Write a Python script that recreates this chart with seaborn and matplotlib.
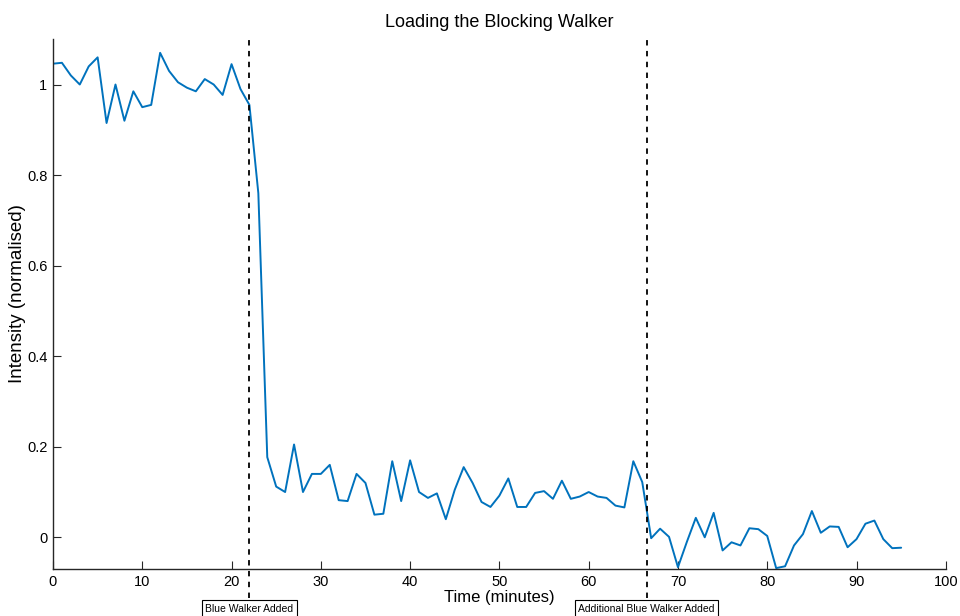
import numpy as np
import pandas as pd
import seaborn as sns
import matplotlib
matplotlib.use("Agg")
import matplotlib.pyplot as plt

# intensity readings, one per minute
minutes = list(range(96))
intensity = [
    1.046, 1.048, 1.020, 1.000, 1.040, 1.060, 0.915, 1.000, 0.920, 0.985,
    0.950, 0.955, 1.070, 1.030, 1.005, 0.993, 0.985, 1.012, 1.000, 0.977,
    1.045, 0.990, 0.955, 0.760, 0.177, 0.112, 0.100, 0.205, 0.100, 0.140,
    0.140, 0.160, 0.082, 0.080, 0.140, 0.120, 0.050, 0.052, 0.168, 0.080,
    0.170, 0.100, 0.087, 0.097, 0.040, 0.105, 0.155, 0.120, 0.078, 0.067,
    0.092, 0.130, 0.067, 0.067, 0.098, 0.102, 0.085, 0.125, 0.085, 0.090,
    0.100, 0.090, 0.087, 0.070, 0.066, 0.168, 0.122, -0.002, 0.019, 0.001,
    -0.066, -0.010, 0.043, 0.000, 0.054, -0.029, -0.011, -0.018, 0.020, 0.018,
    0.003, -0.068, -0.064, -0.018, 0.007, 0.058, 0.010, 0.024, 0.023, -0.022,
    -0.004, 0.030, 0.037, -0.004, -0.024, -0.023,
]

events = [22.0, 66.5]
event_labels = ["Blue Walker Added", "Additional Blue Walker Added"]

sns.set_style("ticks")
plt.rcParams["font.family"] = ["Liberation Sans", "DejaVu Sans"]
plt.rcParams["text.color"] = "black"
plt.rcParams["axes.labelcolor"] = "black"

fig = plt.figure(figsize=(9.6, 6.16), dpi=100)
ax = fig.add_axes([0.0552, 0.0763, 0.930, 0.860])

df = pd.DataFrame({"Time": minutes, "Intensity": intensity})
sns.lineplot(data=df, x="Time", y="Intensity", ax=ax, color="#0072BD", linewidth=1.4)

for xe, lab in zip(events, event_labels):
    # dashed marker runs a little below the axis, down to the label box
    ax.axvline(xe, ymin=-0.055, ymax=1.0, clip_on=False,
               color="black", linestyle=(0, (3, 3)), linewidth=1.3)
    ax.annotate(lab, xy=(xe, 0), xycoords=("data", "axes fraction"),
                xytext=(0, -28.5), textcoords="offset points",
                ha="center", va="center", fontsize=7.5, annotation_clip=False,
                bbox=dict(boxstyle="square,pad=0.3", fc="white", ec="black", lw=0.8))

ax.set_xlim(0, 100)
ax.set_ylim(-0.07, 1.1)
ax.set_xticks(np.arange(0, 101, 10))
ax.set_yticks([0, 0.2, 0.4, 0.6, 0.8, 1])
ax.set_yticklabels(["0", "0.2", "0.4", "0.6", "0.8", "1"])
ax.tick_params(direction="in", length=6, labelsize=10.5, pad=4,
               color="#262626", labelcolor="black")
ax.set_title("Loading the Blocking Walker", fontsize=13, pad=9)
ax.set_xlabel("Time (minutes)", fontsize=12, labelpad=1)
ax.set_ylabel("Intensity (normalised)", fontsize=13.5)
ax.yaxis.set_label_coords(-0.030, 0.52)
sns.despine(ax=ax)
for s in ["left", "bottom"]:
    ax.spines[s].set_color("#262626")
    ax.spines[s].set_linewidth(1.0)

fig.savefig("out.png", dpi=100)
